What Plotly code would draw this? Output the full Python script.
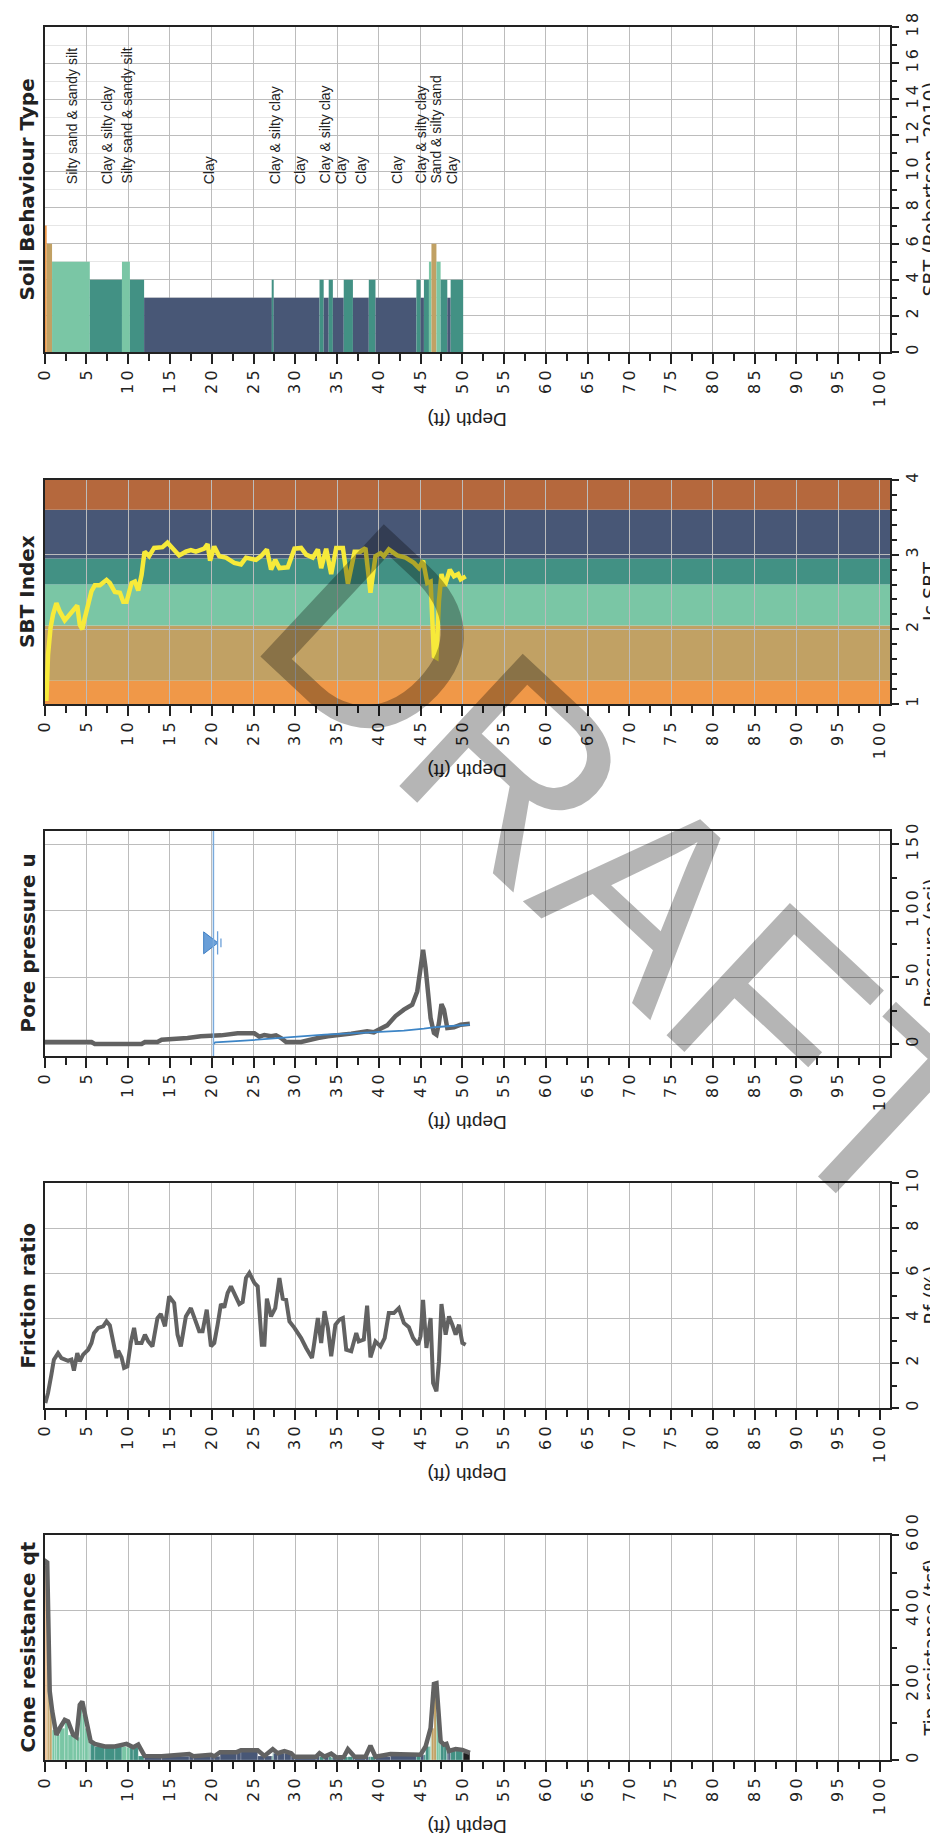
import plotly.graph_objects as go

# ---------------- data ----------------
depth_tick_values = list(range(0, 101, 5))

# Soil behaviour type layers (Robertson 2010 zones)
sbt_top = [0.0, 0.24, 0.88, 5.4, 9.25, 10.2, 11.9, 27.2, 27.4, 32.9, 33.4, 34.0, 34.5,
           35.8, 36.9, 38.8, 39.6, 44.5, 45.0, 45.4, 46.0, 46.3, 46.9, 47.4, 48.2, 48.6]
sbt_bottom = sbt_top[1:] + [50.1]
sbt_zone = [7, 6, 5, 4, 5, 4, 3, 4, 3, 4, 3, 4, 3, 4, 3, 4, 3, 4, 3, 4, 5, 6, 5, 4, 3, 4]

sbt_label_depth = [3.3, 7.5, 9.8, 19.6, 27.5, 30.6, 33.5, 35.4, 37.9, 42.2, 45.0, 46.8, 48.7]
sbt_label_text = ["Silty sand & sandy silt", "Clay & silty clay", "Silty sand & sandy silt",
                  "Clay", "Clay & silty clay", "Clay", "Clay & silty clay", "Clay", "Clay",
                  "Clay", "Clay & silty clay", "Sand & silty sand", "Clay"]
sbt_label_level = 9.2

# Ic SBT zone bands
ic_band_edges = [1.0, 1.31, 2.05, 2.60, 2.95, 3.60, 4.0]
ic_band_zone = [7, 6, 5, 4, 3, 2]

ic_depth = [0.2, 0.4, 0.7, 1.0, 1.4, 1.8, 2.4, 3.0, 3.6, 3.9, 4.2, 4.5, 4.8, 5.2, 5.6, 6.0,
            6.6, 7.4, 7.8, 8.4, 9.0, 9.4, 9.8, 10.4, 10.8, 11.2, 11.6, 11.95, 12.5, 13.1,
            14.1, 14.7, 15.3, 16.1, 16.9, 17.5, 18.1, 19.1, 19.5, 19.8, 20.3, 20.9, 21.7,
            22.7, 23.5, 24.1, 25.3, 25.9, 26.6, 27.1, 27.6, 28.1, 29.1, 29.9, 30.7, 31.3,
            32.1, 32.7, 33.1, 33.7, 34.3, 34.9, 35.7, 36.3, 37.1, 37.8, 38.4, 39.0, 39.6,
            40.2, 40.6, 41.2, 42.2, 43.2, 44.2, 44.8, 45.3, 45.8, 46.2, 46.6, 46.9, 47.2,
            47.5, 47.9, 48.5, 49.0, 49.5, 49.8, 50.4]
ic_vals = [1.04, 1.66, 2.02, 2.20, 2.35, 2.24, 2.12, 2.20, 2.29, 2.32, 2.06, 2.00, 2.15, 2.33,
           2.51, 2.59, 2.59, 2.66, 2.62, 2.50, 2.49, 2.37, 2.37, 2.62, 2.64, 2.52, 2.73, 3.04,
           2.98, 3.09, 3.10, 3.16, 3.08, 2.99, 3.04, 3.06, 3.04, 3.08, 3.14, 2.92, 3.11, 2.98,
           2.96, 2.89, 2.87, 2.96, 2.93, 2.98, 3.07, 2.80, 2.93, 2.82, 2.83, 3.08, 3.09, 3.00,
           2.96, 3.07, 2.82, 3.08, 2.74, 3.09, 3.09, 2.61, 3.04, 3.04, 3.09, 2.49, 2.98, 3.02,
           2.98, 3.07, 2.99, 2.96, 2.89, 2.82, 2.92, 2.62, 2.64, 1.64, 1.62, 2.38, 2.74, 2.58,
           2.80, 2.71, 2.74, 2.67, 2.71]

# Pore pressure u2 (psi)
u2_depth = [0.0, 5.6, 6.0, 11.6, 12.0, 13.5, 14.0, 16.7, 17.1, 18.7, 21.1, 23.1, 25.1, 25.7,
            26.3, 27.1, 27.7, 28.3, 28.9, 30.7, 31.5, 32.7, 33.9, 35.1, 36.7, 38.6, 39.4, 40.2,
            41.0, 42.0, 43.0, 44.0, 44.6, 45.0, 45.3, 45.6, 46.2, 46.6, 46.9, 47.2, 47.5, 47.8,
            48.2, 49.0, 49.8, 50.9]
u2_vals = [1.5, 1.5, 0.0, 0.0, 1.5, 1.5, 3.2, 3.8, 4.5, 5.8, 6.5, 8.0, 8.0, 5.5, 6.8, 5.8, 6.5,
           4.5, 1.5, 1.5, 3.0, 4.5, 5.8, 7.0, 7.8, 9.5, 8.8, 11.5, 14.0, 21.0, 25.8, 29.5, 39.5,
           57.0, 70.8, 57.0, 19.5, 8.3, 7.0, 15.8, 30.0, 25.8, 12.0, 12.5, 14.5, 15.3]

# Hydrostatic pressure (psi)
hydro_depth = [20.2, 20.4, 23.9, 27.1, 30.3, 33.5, 39.0, 43.0, 45.4, 47.0, 50.9]
hydro_vals = [0.0, 1.2, 2.5, 4.0, 5.8, 7.0, 8.8, 10.0, 11.5, 12.8, 14.5]
water_table_depth = 20.2
water_symbol_level = 76.0

# Friction ratio Rf (%)
rf_depth = [0.08, 0.4, 0.8, 1.1, 1.6, 2.0, 2.8, 3.2, 3.5, 3.9, 4.2, 4.6, 5.2, 5.6, 5.9, 6.4,
            7.0, 7.4, 7.8, 8.2, 8.6, 8.8, 9.2, 9.5, 9.9, 10.3, 10.7, 11.0, 11.6, 12.0, 12.4,
            12.9, 13.5, 13.9, 14.4, 14.9, 15.5, 15.9, 16.3, 16.9, 17.5, 18.0, 18.5, 18.9, 19.4,
            19.9, 20.3, 20.7, 21.1, 21.5, 21.9, 22.3, 22.7, 23.3, 23.7, 24.1, 24.5, 25.1, 25.5,
            26.0, 26.3, 26.6, 27.1, 27.6, 28.1, 28.5, 28.9, 29.3, 29.9, 30.7, 31.3, 32.0, 32.3,
            32.7, 33.1, 33.5, 33.9, 34.3, 34.8, 35.3, 35.7, 36.1, 36.7, 37.3, 37.6, 38.2, 38.6,
            39.0, 39.6, 40.2, 40.7, 41.2, 41.8, 42.4, 43.0, 43.6, 44.1, 44.7, 45.0, 45.3, 45.7,
            46.2, 46.5, 46.9, 47.2, 47.5, 48.0, 48.4, 48.8, 49.2, 49.6, 50.0, 50.4]
rf_vals = [0.22, 0.67, 1.48, 2.15, 2.44, 2.22, 2.10, 2.15, 1.66, 2.44, 2.07, 2.37, 2.59, 2.89,
           3.33, 3.56, 3.63, 3.85, 3.67, 2.96, 2.22, 2.55, 2.25, 1.78, 1.85, 2.89, 3.56, 2.89,
           2.89, 3.26, 2.96, 2.74, 4.00, 4.18, 3.63, 4.96, 4.67, 3.26, 2.74, 4.07, 4.44, 3.93,
           3.41, 3.41, 4.37, 2.74, 2.89, 3.70, 4.62, 4.47, 5.11, 5.41, 5.11, 4.62, 4.71, 5.78,
           6.00, 5.56, 5.41, 2.81, 2.81, 4.86, 4.07, 4.44, 5.78, 4.86, 4.81, 3.85, 3.56, 3.11,
           2.67, 2.22, 2.96, 4.00, 2.89, 4.30, 3.56, 2.30, 3.70, 3.93, 4.00, 2.59, 2.52, 3.33,
           2.96, 3.04, 4.55, 2.25, 2.96, 2.74, 3.11, 4.22, 4.22, 4.44, 3.78, 3.59, 3.11, 2.81,
           3.19, 4.81, 2.67, 4.00, 1.11, 0.74, 2.07, 4.62, 3.26, 4.07, 3.70, 3.26, 3.70, 2.89,
           2.81]

# Cone resistance qt (tsf)
qt_depth = [0.0, 0.1, 0.3, 0.4, 0.6, 0.9, 1.2, 1.4, 1.8, 2.4, 2.8, 3.4, 3.8, 4.2, 4.5, 4.8,
            5.2, 5.5, 6.0, 7.2, 8.4, 9.8, 10.6, 11.2, 11.95, 14.0, 17.3, 17.8, 19.9, 20.3, 21.0,
            23.0, 23.5, 25.5, 26.3, 27.3, 27.9, 28.7, 29.5, 29.9, 32.5, 32.9, 33.5, 34.3, 34.9,
            35.8, 36.3, 37.1, 38.4, 39.0, 39.6, 41.4, 45.0, 45.6, 46.2, 46.6, 46.9, 47.2, 47.4,
            47.8, 48.1, 48.4, 49.2, 50.0, 50.9]
qt_vals = [520, 530, 527, 396, 183, 130, 80, 67, 85, 107, 103, 67, 61, 147, 156, 121, 85, 50,
           43, 36, 36, 43, 34, 41, 11, 10, 16, 10, 14, 10, 21, 21, 26, 26, 11, 29, 18, 24, 18,
           9, 9, 18, 9, 17, 7, 8, 29, 9, 9, 38, 9, 16, 14, 36, 85, 203, 205, 121, 50, 41, 43,
           24, 29, 27, 19]

panel_titles = ["Soil Behaviour Type", "SBT Index", "Pore pressure u", "Friction ratio",
                "Cone resistance qt"]
value_titles = ["SBT (Robertson, 2010)", "Ic SBT", "Pressure (psi)", "Rf (%)",
                "Tip resistance (tsf)"]
value_ranges = [[0, 18], [1, 4], [-9, 160], [0, 10], [0, 600]]
value_tick_values = [list(range(0, 19, 2)), [1, 2, 3, 4], [0, 50, 100, 150],
                     list(range(0, 11, 2)), [0, 200, 400, 600]]
value_minor_step = [1, 0.2, 25, 1, 100]
depth_title = "Depth (ft)"
watermark = "DRAFT"

# ---------------- style ----------------
zone_colors = {0: '#1e1e1e', 2: '#b5683d', 3: '#485776', 4: '#429184', 5: '#7ac6a5',
               6: '#c1a164', 7: '#f09848'}
W, H = 938, 1835
panel_px = [(19, 344), (472, 696), (823, 1048), (1175, 1400), (1527, 1752)]
x_px = (36.7, 882.0)
depth_range = [0, 101.2]
INK = '#222222'
GRID = '#bcbcbc'
TICKFONT = dict(family='DejaVu Sans', size=16, color=INK)
LINEGRAY = '#626262'


def spaced(v):
    return '\u2009'.join(str(v))


fig = go.Figure()

for i in range(5):
    n = '' if i == 0 else str(i + 1)
    top, bot = panel_px[i]
    fig.update_layout(**{
        f'xaxis{n}': dict(
            domain=[x_px[0] / W, x_px[1] / W], anchor=f'y{n}', range=depth_range,
            tickmode='array', tickvals=depth_tick_values,
            ticktext=[spaced(v) for v in depth_tick_values], tickangle=-90,
            ticks='outside', ticklen=10, tickwidth=1.5, tickcolor=INK,
            showgrid=True, gridcolor=GRID, gridwidth=1,
            showline=True, linecolor=INK, linewidth=2, mirror=True, zeroline=False,
            tickfont=TICKFONT, automargin=False, fixedrange=True,
            minor=dict(tickmode='linear', tick0=0, dtick=2.5, ticks='outside', ticklen=7,
                       tickwidth=1.5, tickcolor=INK, showgrid=False)),
        f'yaxis{n}': dict(
            domain=[1 - bot / H, 1 - top / H], anchor=f'x{n}', side='right',
            range=value_ranges[i], tickmode='array', tickvals=value_tick_values[i],
            ticktext=[spaced(v) for v in value_tick_values[i]], tickangle=-90,
            ticks='outside', ticklen=7, tickwidth=1.5, tickcolor=INK,
            showgrid=True, gridcolor=GRID, gridwidth=1,
            showline=True, linecolor=INK, linewidth=2, mirror=True, zeroline=False,
            tickfont=TICKFONT, automargin=False, fixedrange=True,
            minor=dict(tickmode='linear', tick0=value_tick_values[i][0],
                       dtick=value_minor_step[i], ticks='outside', ticklen=5, tickwidth=1.5,
                       tickcolor=INK, showgrid=(i == 0), gridcolor='#e6e6e6')),
    })

# ---- panel 1: SBT bars ----
fig.add_trace(go.Bar(
    x=[(t + b) / 2 for t, b in zip(sbt_top, sbt_bottom)],
    width=[b - t for t, b in zip(sbt_top, sbt_bottom)],
    y=sbt_zone, marker=dict(color=[zone_colors[z] for z in sbt_zone], line=dict(width=0)),
    xaxis='x', yaxis='y', hoverinfo='skip'))

# ---- panel 2: Ic bands + line ----
for lo, hi, z in zip(ic_band_edges[:-1], ic_band_edges[1:], ic_band_zone):
    fig.add_shape(type='rect', xref='x2 domain', yref='y2', x0=0, x1=1, y0=lo, y1=hi,
                  fillcolor=zone_colors[z], line=dict(width=0), layer='below')
fig.add_trace(go.Scatter(x=ic_depth, y=ic_vals, mode='lines',
                         line=dict(color='#f7ea3a', width=4.5), xaxis='x2', yaxis='y2'))

# ---- panel 3: pore pressure ----
fig.add_shape(type='line', xref='x3', yref='y3 domain', x0=water_table_depth,
              x1=water_table_depth, y0=0, y1=1, line=dict(color='#7aaadc', width=1.5))
fig.add_trace(go.Scatter(x=u2_depth, y=u2_vals, mode='lines',
                         line=dict(color=LINEGRAY, width=4.5), xaxis='x3', yaxis='y3'))
fig.add_trace(go.Scatter(x=hydro_depth, y=hydro_vals, mode='lines',
                         line=dict(color='#3d85c6', width=1.8), xaxis='x3', yaxis='y3'))
fig.add_trace(go.Scatter(x=[water_table_depth - 0.6], y=[water_symbol_level], mode='markers',
                         marker=dict(symbol='triangle-right', size=19, color='#6a9fd8',
                                     line=dict(color='#3f7fc4', width=1)),
                         xaxis='x3', yaxis='y3'))
fig.add_trace(go.Scatter(
    x=[water_table_depth + 0.5, water_table_depth + 0.5, None,
       water_table_depth + 0.9, water_table_depth + 0.9],
    y=[water_symbol_level - 8.7, water_symbol_level + 8.7, None,
       water_symbol_level - 3.3, water_symbol_level + 3.3],
    mode='lines', line=dict(color='#6a9fd8', width=1.3), xaxis='x3', yaxis='y3'))

# ---- panel 4: friction ratio ----
fig.add_trace(go.Scatter(x=rf_depth, y=rf_vals, mode='lines',
                         line=dict(color=LINEGRAY, width=4), xaxis='x4', yaxis='y4'))


# ---- panel 5: cone resistance with SBT-coloured fill ----
def zone_at(d):
    for t, b, z in zip(sbt_top, sbt_bottom, sbt_zone):
        if t <= d < b:
            return z
    return 0


edges = sbt_top + [sbt_bottom[-1]]
bx, bw, by, bc = [], [], [], []
for k in range(len(qt_depth) - 1):
    d0, d1 = qt_depth[k], qt_depth[k + 1]
    h = min(qt_vals[k], qt_vals[k + 1])
    cuts = sorted({d0, d1} | {e for e in edges if d0 < e < d1})
    for a, b in zip(cuts[:-1], cuts[1:]):
        bx.append((a + b) / 2)
        bw.append(b - a)
        by.append(h)
        bc.append(zone_colors[zone_at((a + b) / 2)])
fig.add_trace(go.Bar(x=bx, width=bw, y=by,
                     marker=dict(color=bc, line=dict(width=0.6, color='rgba(255,255,255,0.35)')),
                     xaxis='x5', yaxis='y5', hoverinfo='skip'))
fig.add_trace(go.Scatter(x=qt_depth, y=qt_vals, mode='lines',
                         line=dict(color=LINEGRAY, width=4.5), xaxis='x5', yaxis='y5'))

# ---------------- annotations ----------------
ann = []
for i in range(5):
    top, bot = panel_px[i]
    yc = 1 - (top + bot) / 2 / H
    ann.append(dict(text=panel_titles[i], x=19 / W, y=yc, xref='paper', yref='paper',
                    textangle=-90, showarrow=False, xanchor='center', yanchor='middle',
                    font=dict(family='DejaVu Sans', size=20, color=INK, weight='bold')))
    ann.append(dict(text=value_titles[i], x=922 / W, y=yc, xref='paper', yref='paper',
                    textangle=-90, showarrow=False, xanchor='center', yanchor='middle',
                    font=dict(family='DejaVu Sans', size=19, color=INK)))
    ann.append(dict(text=depth_title, x=(x_px[0] + x_px[1]) / 2 / W, y=1 - (bot + 67) / H,
                    xref='paper', yref='paper', textangle=180, showarrow=False,
                    xanchor='center', yanchor='middle',
                    font=dict(family='Liberation Sans', size=19, color=INK)))

for d, t in zip(sbt_label_depth, sbt_label_text):
    ann.append(dict(text=t, x=d, y=sbt_label_level, xref='x', yref='y', textangle=-90,
                    showarrow=False, xanchor='center', yanchor='bottom',
                    font=dict(family='Liberation Sans', size=14, color=INK)))

ann.append(dict(text=watermark, x=619 / W, y=1 - 866 / H, xref='paper', yref='paper',
                textangle=43, showarrow=False, xanchor='center', yanchor='middle',
                font=dict(family='Liberation Sans', size=263, color='rgba(0,0,0,0.29)')))

fig.update_layout(width=W, height=H, margin=dict(l=0, r=0, t=0, b=0),
                  paper_bgcolor='white', plot_bgcolor='white', showlegend=False,
                  barmode='overlay', annotations=ann)

fig.write_html("out.html")
